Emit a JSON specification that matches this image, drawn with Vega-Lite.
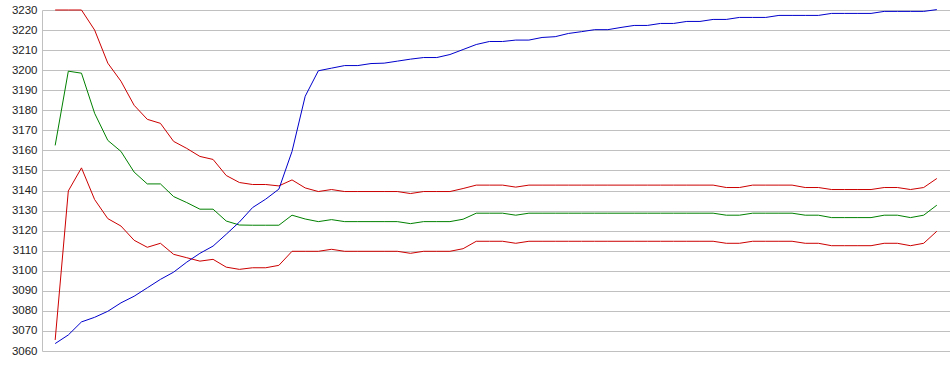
{
  "$schema": "https://vega.github.io/schema/vega-lite/v6.json",
  "width": 908,
  "height": 341,
  "autosize": {"type": "none"},
  "padding": {"left": 42, "top": 10, "right": 0, "bottom": 24},
  "background": "white",
  "config": {"view": {"stroke": null}},
  "data": {"values": [
    {"i":0,"blue":3063.7,"upper":3230,"mid":3162.5,"lower":3065.5},
    {"i":1,"blue":3068,"upper":3230,"mid":3199.5,"lower":3139.8},
    {"i":2,"blue":3074.5,"upper":3230,"mid":3198.5,"lower":3151.3},
    {"i":3,"blue":3076.8,"upper":3220,"mid":3178.5,"lower":3135.5},
    {"i":4,"blue":3079.8,"upper":3203.5,"mid":3165,"lower":3126},
    {"i":5,"blue":3084,"upper":3194.5,"mid":3159.5,"lower":3122.3},
    {"i":6,"blue":3087.3,"upper":3182.5,"mid":3149.2,"lower":3115.2},
    {"i":7,"blue":3091.5,"upper":3175.5,"mid":3143.3,"lower":3111.7},
    {"i":8,"blue":3095.7,"upper":3173.5,"mid":3143.3,"lower":3113.7},
    {"i":9,"blue":3099.3,"upper":3164.5,"mid":3137,"lower":3108.2},
    {"i":10,"blue":3104.3,"upper":3161,"mid":3134,"lower":3106.5},
    {"i":11,"blue":3108.7,"upper":3157,"mid":3130.7,"lower":3104.8},
    {"i":12,"blue":3112.3,"upper":3155.5,"mid":3130.7,"lower":3105.7},
    {"i":13,"blue":3118.2,"upper":3147.5,"mid":3124.8,"lower":3101.8},
    {"i":14,"blue":3124.3,"upper":3144,"mid":3122.8,"lower":3100.7},
    {"i":15,"blue":3131.5,"upper":3143,"mid":3122.7,"lower":3101.5},
    {"i":16,"blue":3135.7,"upper":3143,"mid":3122.7,"lower":3101.5},
    {"i":17,"blue":3140.7,"upper":3142.3,"mid":3122.7,"lower":3102.7},
    {"i":18,"blue":3159.5,"upper":3145.3,"mid":3127.7,"lower":3109.7},
    {"i":19,"blue":3187,"upper":3141.3,"mid":3125.8,"lower":3109.7},
    {"i":20,"blue":3199.7,"upper":3139.5,"mid":3124.5,"lower":3109.7},
    {"i":21,"blue":3201,"upper":3140.5,"mid":3125.5,"lower":3110.7},
    {"i":22,"blue":3202.3,"upper":3139.5,"mid":3124.5,"lower":3109.7},
    {"i":23,"blue":3202.3,"upper":3139.5,"mid":3124.5,"lower":3109.7},
    {"i":24,"blue":3203.3,"upper":3139.5,"mid":3124.5,"lower":3109.7},
    {"i":25,"blue":3203.5,"upper":3139.5,"mid":3124.5,"lower":3109.7},
    {"i":26,"blue":3204.5,"upper":3139.5,"mid":3124.5,"lower":3109.7},
    {"i":27,"blue":3205.5,"upper":3138.5,"mid":3123.5,"lower":3108.7},
    {"i":28,"blue":3206.3,"upper":3139.5,"mid":3124.5,"lower":3109.7},
    {"i":29,"blue":3206.3,"upper":3139.5,"mid":3124.5,"lower":3109.7},
    {"i":30,"blue":3207.8,"upper":3139.5,"mid":3124.5,"lower":3109.7},
    {"i":31,"blue":3210.3,"upper":3141,"mid":3125.7,"lower":3111},
    {"i":32,"blue":3212.8,"upper":3142.7,"mid":3128.7,"lower":3114.7},
    {"i":33,"blue":3214.3,"upper":3142.7,"mid":3128.7,"lower":3114.7},
    {"i":34,"blue":3214.3,"upper":3142.7,"mid":3128.7,"lower":3114.7},
    {"i":35,"blue":3215,"upper":3141.7,"mid":3127.7,"lower":3113.7},
    {"i":36,"blue":3215,"upper":3142.7,"mid":3128.7,"lower":3114.7},
    {"i":37,"blue":3216.3,"upper":3142.7,"mid":3128.7,"lower":3114.7},
    {"i":38,"blue":3216.7,"upper":3142.7,"mid":3128.7,"lower":3114.7},
    {"i":39,"blue":3218.3,"upper":3142.7,"mid":3128.7,"lower":3114.7},
    {"i":40,"blue":3219.2,"upper":3142.7,"mid":3128.7,"lower":3114.7},
    {"i":41,"blue":3220.2,"upper":3142.7,"mid":3128.7,"lower":3114.7},
    {"i":42,"blue":3220.2,"upper":3142.7,"mid":3128.7,"lower":3114.7},
    {"i":43,"blue":3221.3,"upper":3142.7,"mid":3128.7,"lower":3114.7},
    {"i":44,"blue":3222.3,"upper":3142.7,"mid":3128.7,"lower":3114.7},
    {"i":45,"blue":3222.3,"upper":3142.7,"mid":3128.7,"lower":3114.7},
    {"i":46,"blue":3223.3,"upper":3142.7,"mid":3128.7,"lower":3114.7},
    {"i":47,"blue":3223.3,"upper":3142.7,"mid":3128.7,"lower":3114.7},
    {"i":48,"blue":3224.3,"upper":3142.7,"mid":3128.7,"lower":3114.7},
    {"i":49,"blue":3224.3,"upper":3142.7,"mid":3128.7,"lower":3114.7},
    {"i":50,"blue":3225.3,"upper":3142.7,"mid":3128.7,"lower":3114.7},
    {"i":51,"blue":3225.3,"upper":3141.5,"mid":3127.7,"lower":3113.7},
    {"i":52,"blue":3226.3,"upper":3141.5,"mid":3127.7,"lower":3113.7},
    {"i":53,"blue":3226.3,"upper":3142.7,"mid":3128.7,"lower":3114.7},
    {"i":54,"blue":3226.3,"upper":3142.7,"mid":3128.7,"lower":3114.7},
    {"i":55,"blue":3227.3,"upper":3142.7,"mid":3128.7,"lower":3114.7},
    {"i":56,"blue":3227.3,"upper":3142.7,"mid":3128.7,"lower":3114.7},
    {"i":57,"blue":3227.3,"upper":3141.5,"mid":3127.7,"lower":3113.7},
    {"i":58,"blue":3227.3,"upper":3141.5,"mid":3127.7,"lower":3113.7},
    {"i":59,"blue":3228.3,"upper":3140.5,"mid":3126.5,"lower":3112.5},
    {"i":60,"blue":3228.3,"upper":3140.5,"mid":3126.5,"lower":3112.5},
    {"i":61,"blue":3228.3,"upper":3140.5,"mid":3126.5,"lower":3112.5},
    {"i":62,"blue":3228.3,"upper":3140.5,"mid":3126.5,"lower":3112.5},
    {"i":63,"blue":3229.3,"upper":3141.5,"mid":3127.7,"lower":3113.7},
    {"i":64,"blue":3229.3,"upper":3141.5,"mid":3127.7,"lower":3113.7},
    {"i":65,"blue":3229.3,"upper":3140.5,"mid":3126.5,"lower":3112.5},
    {"i":66,"blue":3229.3,"upper":3141.5,"mid":3127.7,"lower":3113.7},
    {"i":67,"blue":3230.2,"upper":3146,"mid":3132.7,"lower":3119.7}
  ]},
  "transform": [{"fold": ["upper", "mid", "lower", "blue"], "as": ["series", "value"]}],
  "mark": {"type": "line", "strokeWidth": 1, "clip": false},
  "encoding": {
    "x": {"field": "i", "type": "quantitative", "scale": {"domain": [-1, 68], "nice": false, "zero": false}, "axis": null},
    "y": {"field": "value", "type": "quantitative",
      "scale": {"domain": [3060, 3230], "nice": false, "zero": false},
      "axis": {"title": null, "format": "d", "values": [3060,3070,3080,3090,3100,3110,3120,3130,3140,3150,3160,3170,3180,3190,3200,3210,3220,3230],
        "grid": true, "gridColor": "#c0c0c0", "gridWidth": 1, "gridOpacity": 1,
        "domain": true, "domainColor": "#c0c0c0", "domainWidth": 1,
        "ticks": false, "labelPadding": 5, "labelFont": "Liberation Sans", "labelFontSize": 11.5, "labelColor": "#222222", "labelBound": false, "labelOverlap": false}},
    "color": {"field": "series", "type": "nominal", "scale": {"domain": ["upper", "mid", "lower", "blue"], "range": ["#cc0000", "#008000", "#cc0000", "#0000cc"]}, "legend": null},
    "order": {"field": "i", "type": "quantitative"}
  }
}
